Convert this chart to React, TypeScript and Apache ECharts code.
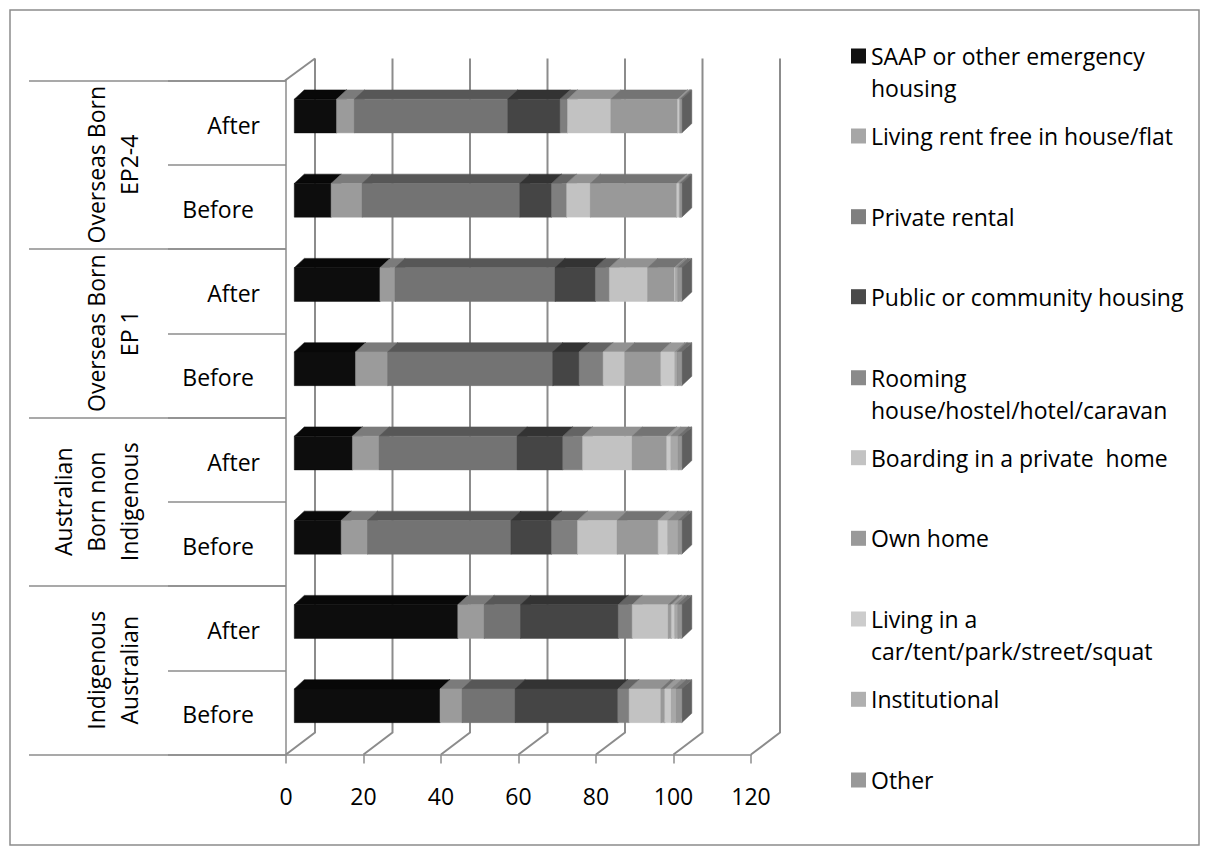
import { useEffect, useRef } from 'react';
import * as echarts from 'echarts';

// Row order is bottom-to-top on the category axis.
const groupLabels = [
  'Indigenous\nAustralian',
  'Australian\nBorn non\nIndigenous',
  'Overseas Born\nEP 1',
  'Overseas Born\nEP2-4',
];
const periodLabels = ['Before', 'After'];
const rowKeys = groupLabels.flatMap((g, gi) => periodLabels.map((p) => `${gi}|${p}`));

const xTicks = [0, 20, 40, 60, 80, 100, 120];

// Share of clients (%) in each housing type, per row (bottom-to-top).
const saap = [37.6, 42.2, 12.1, 15.0, 15.8, 22.1, 9.5, 10.9];
const rentFree = [5.7, 6.8, 6.8, 6.9, 8.3, 3.9, 8.0, 4.6];
const privateRental = [13.7, 9.4, 37.0, 35.6, 42.6, 41.3, 40.7, 39.6];
const publicHousing = [26.5, 25.2, 10.5, 11.8, 6.8, 10.4, 8.2, 13.5];
const rooming = [2.9, 3.6, 6.7, 5.1, 6.2, 3.6, 3.9, 1.9];
const boarding = [8.2, 9.3, 10.2, 12.8, 5.6, 9.9, 6.1, 11.2];
const ownHome = [1.0, 0.8, 10.6, 8.9, 9.3, 6.9, 22.3, 17.2];
const carTent = [1.7, 0.9, 2.5, 1.1, 3.6, 0.3, 0.6, 0.5];
const institutional = [1.3, 0.8, 2.7, 1.9, 0.6, 0.6, 0.3, 0.3];
const other = [1.4, 1.0, 0.9, 0.9, 1.2, 1.0, 0.4, 0.3];

const seriesDefs = [
  { name: 'SAAP or other emergency housing', label: 'SAAP or other emergency\nhousing', values: saap, legend: '#111111', front: '#0d0d0d', top: '#080808', side: '#050505' },
  { name: 'Living rent free in house/flat', label: 'Living rent free in house/flat', values: rentFree, legend: '#a6a6a6', front: '#9b9b9b', top: '#7b7b7b', side: '#626262' },
  { name: 'Private rental', label: 'Private rental', values: privateRental, legend: '#7f7f7f', front: '#737373', top: '#575757', side: '#484848' },
  { name: 'Public or community housing', label: 'Public or community housing', values: publicHousing, legend: '#4a4a4a', front: '#454545', top: '#333333', side: '#2a2a2a' },
  { name: 'Rooming house/hostel/hotel/caravan', label: 'Rooming\nhouse/hostel/hotel/caravan', values: rooming, legend: '#8a8a8a', front: '#7f7f7f', top: '#646464', side: '#525252' },
  { name: 'Boarding in a private  home', label: 'Boarding in a private  home', values: boarding, legend: '#c3c3c3', front: '#c2c2c2', top: '#929292', side: '#7a7a7a' },
  { name: 'Own home', label: 'Own home', values: ownHome, legend: '#999999', front: '#999999', top: '#747474', side: '#616161' },
  { name: 'Living in a car/tent/park/street/squat', label: 'Living in a\ncar/tent/park/street/squat', values: carTent, legend: '#cccccc', front: '#c9c9c9', top: '#9a9a9a', side: '#808080' },
  { name: 'Institutional', label: 'Institutional', values: institutional, legend: '#b0b0b0', front: '#a8a8a8', top: '#858585', side: '#6c6c6c' },
  { name: 'Other', label: 'Other', values: other, legend: '#999999', front: '#959595', top: '#6f6f6f', side: '#5f5f5f' },
];

// Vertical centre of each legend entry's first line.
const legendRows = [56, 136, 216.7, 296.7, 377.7, 457.7, 538.3, 619, 699.3, 780];

const FONT = '"Open Sans", "Noto Sans", sans-serif';
const FONT_SIZE = 23;
const AXIS_GREY = '#8c8c8c';
const WALL_DEPTH = [29, -22]; // front plane -> back wall
const BAR_OFFSET = [8.3, -6.6]; // front plane -> bar front face
const BAR_DEPTH = [10, -9.3]; // bar front face -> bar back face

export default function App() {
  const ref = useRef<HTMLDivElement>(null);

  useEffect(() => {
    if (!ref.current) return;
    const chart = echarts.init(ref.current, undefined, { renderer: 'svg' });

    // cumulative stacking
    const cum = rowKeys.map(() => 0);
    const barSeries = seriesDefs.map((def) => {
      const data = def.values.map((v, ri) => {
        const s = cum[ri];
        cum[ri] = s + v;
        return [s, s + v, ri];
      });
      return {
        type: 'custom',
        name: def.name,
        coordinateSystem: 'cartesian2d',
        xAxisIndex: 0,
        yAxisIndex: 0,
        z: 3,
        itemStyle: { color: def.legend },
        encode: { x: [0, 1], y: 2 },
        data,
        renderItem: (params: any, api: any) => {
          const s = api.value(0);
          const e = api.value(1);
          const r = api.value(2);
          const p0 = api.coord([s, r]);
          const p1 = api.coord([e, r]);
          const band = api.size([0, 1])[1];
          const h = band * 0.4;
          const x0 = p0[0] + BAR_OFFSET[0];
          const x1 = p1[0] + BAR_OFFSET[0];
          const yT = p0[1] + BAR_OFFSET[1] - h / 2;
          const [dx, dy] = BAR_DEPTH;
          return {
            type: 'group',
            children: [
              {
                type: 'polygon',
                shape: { points: [[x1, yT], [x1 + dx, yT + dy], [x1 + dx, yT + h + dy], [x1, yT + h]] },
                style: { fill: def.side, stroke: def.side, lineWidth: 0.5 },
              },
              {
                type: 'polygon',
                shape: { points: [[x0, yT], [x1, yT], [x1 + dx, yT + dy], [x0 + dx, yT + dy]] },
                style: { fill: def.top, stroke: def.top, lineWidth: 0.5 },
              },
              {
                type: 'rect',
                shape: { x: x0, y: yT, width: x1 - x0, height: h },
                style: { fill: def.front, stroke: def.front, lineWidth: 0.5 },
              },
            ],
          };
        },
      };
    });

    // back-wall gridlines and floor diagonals
    const wallSeries = {
      type: 'custom',
      name: 'wall',
      coordinateSystem: 'cartesian2d',
      xAxisIndex: 0,
      yAxisIndex: 0,
      z: 1,
      silent: true,
      encode: { x: 0, y: 1 },
      data: xTicks.map((t) => [t, 0]),
      renderItem: (params: any, api: any) => {
        const v = api.value(0);
        const cs = params.coordSys;
        const x = api.coord([v, 0])[0];
        const bottom = cs.y + cs.height;
        const top = cs.y;
        const [dx, dy] = WALL_DEPTH;
        const children: any[] = [
          {
            type: 'polyline',
            shape: { points: [[x, bottom], [x + dx, bottom + dy], [x + dx, top + dy]] },
            style: { stroke: AXIS_GREY, lineWidth: 2, fill: null },
          },
        ];
        if (v === 0) {
          children.push({
            type: 'line',
            shape: { x1: cs.x - 1, y1: top, x2: x + dx, y2: top + dy },
            style: { stroke: AXIS_GREY, lineWidth: 2 },
          });
        }
        return { type: 'group', children };
      },
    };

    const legends = seriesDefs.map((def, i) => {
      const twoLine = def.label.includes('\n');
      return {
        show: true,
        left: 851,
        top: legendRows[i] - 16,
        padding: 0,
        orient: 'vertical',
        selectedMode: false,
        itemWidth: 15,
        itemHeight: twoLine ? 47 : 15,
        itemGap: 0,
        data: [
          {
            name: def.name,
            icon: twoLine ? 'path://M0,0H15V15H0Z M0,47H0.01V47.01H0Z' : 'rect',
          },
        ],
        formatter: () => def.label,
        textStyle: { fontFamily: FONT, fontSize: FONT_SIZE, color: '#000', lineHeight: 32 },
      };
    });

    chart.setOption({
      animation: false,
      backgroundColor: '#ffffff',
      textStyle: { fontFamily: FONT },
      grid: { left: 286, right: 458, top: 80.5, bottom: 100.5, containLabel: false },
      legend: legends,
      xAxis: {
        type: 'value',
        min: 0,
        max: 120,
        interval: 20,
        axisLine: { show: true, lineStyle: { color: AXIS_GREY, width: 1.5 } },
        axisTick: { show: true, length: 9, inside: false, lineStyle: { color: AXIS_GREY, width: 1.5 } },
        splitLine: { show: false },
        axisLabel: { fontFamily: FONT, fontSize: FONT_SIZE, color: '#000', margin: 30, lineHeight: 23 },
      },
      yAxis: [
        {
          type: 'category',
          position: 'left',
          data: rowKeys,
          axisLine: { show: true, lineStyle: { color: AXIS_GREY, width: 1.5 } },
          axisTick: { show: true, length: 118, lineStyle: { color: AXIS_GREY, width: 1.5 } },
          splitLine: { show: false },
          axisLabel: {
            interval: 0,
            margin: 26,
            fontFamily: FONT,
            fontSize: FONT_SIZE,
            color: '#000',
            formatter: (v: string) => {
              const p = v.split('|')[1];
              return p === 'Before' ? `{b|${p}}` : `{a|${p}}`;
            },
            rich: {
              a: { fontFamily: FONT, fontSize: FONT_SIZE, color: '#000', padding: [4, 0, 0, 0] },
              b: { fontFamily: FONT, fontSize: FONT_SIZE, color: '#000', padding: [4, 6, 0, 0] },
            },
          },
        },
        {
          type: 'category',
          position: 'left',
          data: groupLabels,
          axisLine: { show: false },
          axisTick: { show: true, length: 257, lineStyle: { color: AXIS_GREY, width: 1.5 } },
          splitLine: { show: false },
          axisLabel: {
            interval: 0,
            rotate: 90,
            margin: 141,
            fontFamily: FONT,
            fontSize: FONT_SIZE,
            lineHeight: 33,
            color: '#000',
          },
        },
      ],
      graphic: [
        {
          type: 'rect',
          shape: { x: 10, y: 10, width: 1189, height: 835 },
          style: { fill: null, stroke: AXIS_GREY, lineWidth: 1.5 },
          silent: true,
          z: -1,
        },
      ],
      series: [wallSeries, ...barSeries],
    });

    return () => chart.dispose();
  }, []);

  return (
    <div
      ref={ref}
      style={{ position: 'fixed', left: 0, top: 0, width: 1209, height: 855, background: '#fff' }}
    />
  );
}
